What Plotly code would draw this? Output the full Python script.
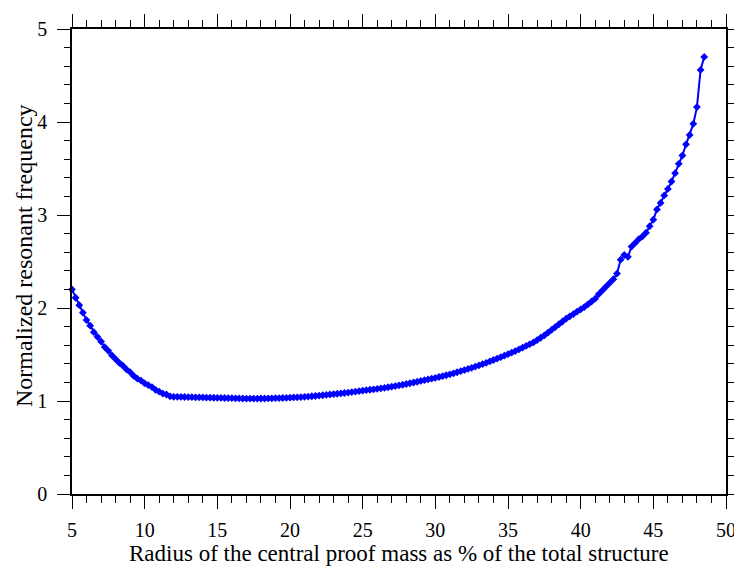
import plotly.graph_objects as go

radius_pct = [
    5.0, 5.25, 5.5, 5.75, 6.0, 6.25, 6.5, 6.75, 7.0, 7.25, 7.5, 7.75,
    8.0, 8.25, 8.5, 8.75, 9.0, 9.25, 9.5, 9.75, 10.0, 10.25, 10.5, 10.75,
    11.0, 11.25, 11.5, 11.75, 12.0, 12.25, 12.5, 12.75, 13.0, 13.25, 13.5, 13.75,
    14.0, 14.25, 14.5, 14.75, 15.0, 15.25, 15.5, 15.75, 16.0, 16.25, 16.5, 16.75,
    17.0, 17.25, 17.5, 17.75, 18.0, 18.25, 18.5, 18.75, 19.0, 19.25, 19.5, 19.75,
    20.0, 20.25, 20.5, 20.75, 21.0, 21.25, 21.5, 21.75, 22.0, 22.25, 22.5, 22.75,
    23.0, 23.25, 23.5, 23.75, 24.0, 24.25, 24.5, 24.75, 25.0, 25.25, 25.5, 25.75,
    26.0, 26.25, 26.5, 26.75, 27.0, 27.25, 27.5, 27.75, 28.0, 28.25, 28.5, 28.75,
    29.0, 29.25, 29.5, 29.75, 30.0, 30.25, 30.5, 30.75, 31.0, 31.25, 31.5, 31.75,
    32.0, 32.25, 32.5, 32.75, 33.0, 33.25, 33.5, 33.75, 34.0, 34.25, 34.5, 34.75,
    35.0, 35.25, 35.5, 35.75, 36.0, 36.25, 36.5, 36.75, 37.0, 37.25, 37.5, 37.75,
    38.0, 38.25, 38.5, 38.75, 39.0, 39.25, 39.5, 39.75, 40.0, 40.25, 40.5, 40.75,
    41.0, 41.25, 41.5, 41.75, 42.0, 42.25, 42.5, 42.75, 43.0, 43.25, 43.5, 43.75,
    44.0, 44.25, 44.5, 44.75, 45.0, 45.25, 45.5, 45.75, 46.0, 46.25, 46.5, 46.75,
    47.0, 47.25, 47.5, 47.75, 48.0, 48.25, 48.5,
]

norm_freq = [
    2.20, 2.11, 2.03, 1.95, 1.87, 1.81, 1.74, 1.69, 1.64, 1.58, 1.54, 1.49,
    1.45, 1.41, 1.38, 1.34, 1.31, 1.27, 1.24, 1.22, 1.19, 1.17, 1.15, 1.12,
    1.10, 1.08, 1.07, 1.05, 1.045, 1.045, 1.044, 1.043, 1.042, 1.041, 1.040, 1.039,
    1.038, 1.037, 1.036, 1.035, 1.034, 1.033, 1.032, 1.031, 1.030, 1.029, 1.028, 1.027,
    1.026, 1.026, 1.026, 1.026, 1.027, 1.027, 1.028, 1.029, 1.030, 1.031, 1.032, 1.034,
    1.036, 1.038, 1.040, 1.042, 1.045, 1.048, 1.051, 1.054, 1.058, 1.062, 1.066, 1.070,
    1.074, 1.078, 1.082, 1.086, 1.091, 1.096, 1.101, 1.106, 1.111, 1.116, 1.121, 1.126,
    1.131, 1.136, 1.142, 1.148, 1.154, 1.161, 1.168, 1.175, 1.183, 1.191, 1.199, 1.207,
    1.216, 1.224, 1.232, 1.240, 1.249, 1.258, 1.267, 1.277, 1.287, 1.298, 1.309, 1.321,
    1.333, 1.345, 1.357, 1.370, 1.383, 1.397, 1.411, 1.426, 1.441, 1.456, 1.471, 1.487,
    1.503, 1.520, 1.537, 1.555, 1.573, 1.592, 1.611, 1.630, 1.655, 1.680, 1.705, 1.735,
    1.765, 1.795, 1.825, 1.855, 1.885, 1.910, 1.935, 1.960, 1.985, 2.010, 2.040, 2.070,
    2.100, 2.150, 2.190, 2.230, 2.270, 2.310, 2.370, 2.520, 2.570, 2.550, 2.660, 2.700,
    2.740, 2.770, 2.810, 2.880, 2.950, 3.060, 3.130, 3.210, 3.280, 3.360, 3.450, 3.550,
    3.640, 3.760, 3.860, 3.980, 4.160, 4.560, 4.700,
]

x_ticks = [5, 10, 15, 20, 25, 30, 35, 40, 45, 50]
y_ticks = [0, 1, 2, 3, 4, 5]

x_title = "Radius of the central proof mass as % of the total structure"
y_title = "Normalized resonant frequency"

FONT = "Liberation Serif, Times New Roman, serif"

fig = go.Figure()
fig.add_trace(go.Scatter(
    x=radius_pct, y=norm_freq,
    mode="lines+markers",
    line=dict(color="#0000FF", width=2),
    marker=dict(symbol="diamond", size=6, color="#0000FF"),
    cliponaxis=False,
    showlegend=False,
))

axis_common = dict(
    showline=True, linecolor="black", linewidth=1.5,
    mirror="allticks", ticks="outside", ticklen=13, tickwidth=1.3,
    tickcolor="black", showgrid=False, zeroline=False, automargin=False,
    tickfont=dict(family=FONT, size=20, color="black"),
    ticklabeloverflow="allow",
)

fig.update_xaxes(
    range=[5, 50], tickvals=x_ticks, ticktext=[str(v) for v in x_ticks],
    minor=dict(dtick=1, ticks="outside", ticklen=7, tickwidth=1.3, tickcolor="black", showgrid=False),
    ticklabelstandoff=4,
    **axis_common,
)
fig.update_yaxes(
    range=[0, 5], tickvals=y_ticks, ticktext=[str(v) for v in y_ticks],
    minor=dict(dtick=0.2, ticks="outside", ticklen=6, tickwidth=1.3, tickcolor="black", showgrid=False),
    ticklabelstandoff=6,
    **axis_common,
)

fig.add_annotation(
    text=x_title, xref="paper", yref="paper", x=0.5, y=-0.129,
    xanchor="center", yanchor="middle", showarrow=False,
    font=dict(family=FONT, size=23, color="black"),
)
fig.add_annotation(
    text=y_title, xref="paper", yref="paper", x=-0.0734, y=0.514,
    xanchor="center", yanchor="middle", showarrow=False, textangle=-90,
    font=dict(family=FONT, size=24, color="black"),
)

fig.update_layout(
    width=734, height=567,
    margin=dict(l=72, r=8, t=29, b=73),
    paper_bgcolor="white", plot_bgcolor="white",
    font=dict(family=FONT, color="black"),
)

fig.write_html(
    "out.html",
    config={"displayModeBar": False},
    post_script="document.body.style.margin='0';document.body.style.overflow='hidden';",
)
